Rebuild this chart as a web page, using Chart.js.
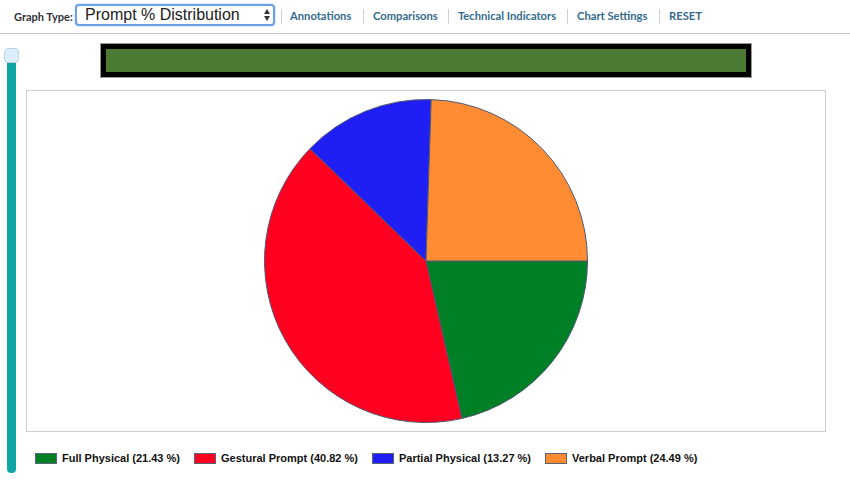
<!DOCTYPE html>
<html>
<head>
<meta charset="utf-8">
<script src="https://cdn.jsdelivr.net/npm/chart.js@4/dist/chart.umd.min.js"></script>
<style>
  html,body{margin:0;padding:0;background:#fff;width:850px;height:499px;overflow:hidden;font-family:Lato, Arial, sans-serif;}
  #toolbar{position:absolute;left:0;top:0;width:850px;height:33px;border-bottom:1px solid #c8c8c8;}
  #gtlabel{position:absolute;left:14px;top:10px;font:bold 11px Lato, sans-serif;color:#333;}
  #sel{position:absolute;left:75px;top:4px;width:196px;height:18px;border:2px solid #6aa0e8;border-radius:4px;box-shadow:0 0 2px #9cc3f5;background:#fff;}
  #sel span{position:absolute;left:8px;top:0px;font:16px "Liberation Sans", Arial, sans-serif;color:#222;line-height:18px;}
  .arrow{position:absolute;left:187px;width:0;height:0;border-left:3.5px solid transparent;border-right:3.5px solid transparent;}
  .up{top:3px;border-bottom:5px solid #333;}
  .dn{top:10px;border-top:5px solid #333;}
  .link{position:absolute;top:9px;font:bold 11.2px Lato, sans-serif;color:#336b8c;white-space:nowrap;}
  .sep{position:absolute;top:9px;width:1px;height:15px;background:#d0d0d0;}
  #track{position:absolute;left:7px;top:55px;width:9px;height:418px;background:#12a5a5;border-radius:0 0 4px 4px;}
  #handle{position:absolute;left:4px;top:48px;width:13px;height:13px;background:#ddeefa;border:1px solid #b8d4ea;border-radius:4px;}
  #gbar{position:absolute;left:101px;top:44px;width:640px;height:23px;border:5px solid #000;background:#4a7a34;outline:1px solid #999;}
  #box{position:absolute;left:26px;top:90px;width:798px;height:340px;border:1px solid #cfcfcf;}
  #legend{position:absolute;left:35px;top:451px;height:14px;display:flex;align-items:center;font:bold 11px "Liberation Sans", Arial, sans-serif;color:#111;white-space:nowrap;}
  .li{display:flex;align-items:center;margin-right:14px;}
  .sw{width:20px;height:9px;border:1px solid #5a6478;margin-right:5px;}
</style>
</head>
<body>
<div id="toolbar">
  <div id="gtlabel">Graph Type:</div>
  <div id="sel"><span>Prompt % Distribution</span><div class="arrow up"></div><div class="arrow dn"></div></div>
  <div class="sep" style="left:281px"></div>
  <div class="link" style="left:290px">Annotations</div>
  <div class="sep" style="left:363px"></div>
  <div class="link" style="left:373px">Comparisons</div>
  <div class="sep" style="left:448px"></div>
  <div class="link" style="left:458px">Technical Indicators</div>
  <div class="sep" style="left:567px"></div>
  <div class="link" style="left:577px">Chart Settings</div>
  <div class="sep" style="left:659px"></div>
  <div class="link" style="left:669px">RESET</div>
</div>
<div id="track"></div>
<div id="handle"></div>
<div id="gbar"></div>
<div id="box"><canvas id="c" width="798" height="340"></canvas></div>
<div id="legend"></div>
<script>
const categories = ["Full Physical", "Gestural Prompt", "Partial Physical", "Verbal Prompt"];
const percentages = [21.43, 40.82, 13.27, 24.49];
const sliceColors = ["#008026", "#ff0021", "#1f1ff5", "#ff8c33"];

const chart = new Chart(document.getElementById('c'), {
  type: 'pie',
  data: {
    labels: categories,
    datasets: [{
      data: percentages,
      backgroundColor: sliceColors,
      borderColor: '#4d5870',
      borderWidth: 1
    }]
  },
  options: {
    responsive: false,
    animation: false,
    rotation: 90,
    layout: { padding: { top: 8, bottom: 8 } },
    plugins: { legend: { display: false }, tooltip: { enabled: false } }
  }
});

const leg = document.getElementById('legend');
categories.forEach((name, i) => {
  const item = document.createElement('div');
  item.className = 'li';
  const sw = document.createElement('div');
  sw.className = 'sw';
  sw.style.background = sliceColors[i];
  const t = document.createElement('span');
  t.textContent = name + ' (' + percentages[i].toFixed(2) + ' %)';
  item.appendChild(sw); item.appendChild(t);
  leg.appendChild(item);
});
</script>
</body>
</html>
